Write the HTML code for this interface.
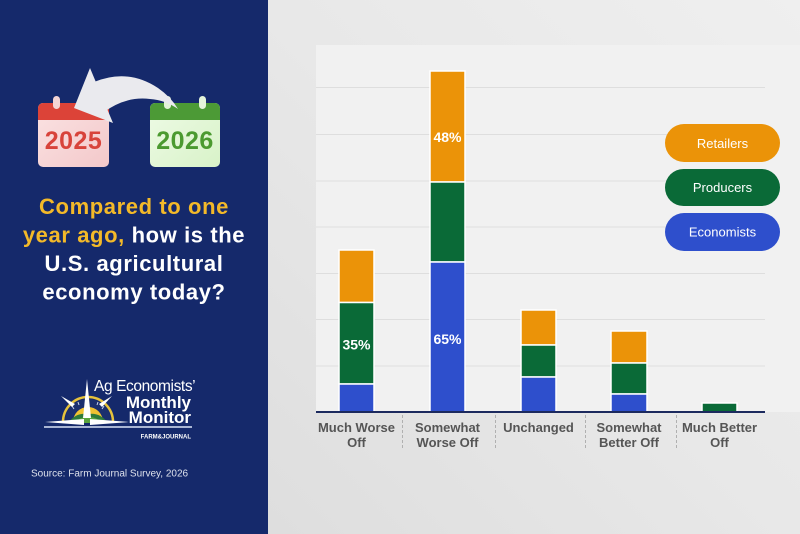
<!DOCTYPE html>
<html><head><meta charset="utf-8"><style>
html,body{margin:0;padding:0;width:800px;height:534px;overflow:hidden;background:#e6e6e6}
svg{display:block}
text{font-family:"Liberation Sans",Arial,sans-serif}
</style></head><body>
<svg width="800" height="534" viewBox="0 0 800 534" xmlns="http://www.w3.org/2000/svg">
<defs>
<linearGradient id="bg" x1="0" y1="1" x2="1" y2="0">
<stop offset="0" stop-color="#dedede"/><stop offset="0.5" stop-color="#e8e8e8"/><stop offset="1" stop-color="#efefef"/>
</linearGradient>
<linearGradient id="pink" x1="0" y1="0" x2="1" y2="1"><stop offset="0" stop-color="#fbe3e3"/><stop offset="1" stop-color="#f3c8ca"/></linearGradient>
<linearGradient id="lgreen" x1="0" y1="0" x2="1" y2="1"><stop offset="0" stop-color="#eefbe6"/><stop offset="1" stop-color="#d8f2c8"/></linearGradient>
</defs>
<rect x="268" y="0" width="532" height="534" fill="url(#bg)"/>
<rect x="316" y="45" width="484" height="367" fill="#f1f1f1"/>
<!-- gridlines -->
<g stroke="#dedede" stroke-width="1">
<line x1="316" y1="87.5" x2="765" y2="87.5"/>
<line x1="316" y1="134.5" x2="765" y2="134.5"/>
<line x1="316" y1="181" x2="765" y2="181"/>
<line x1="316" y1="227" x2="765" y2="227"/>
<line x1="316" y1="273.5" x2="765" y2="273.5"/>
<line x1="316" y1="319.5" x2="765" y2="319.5"/>
<line x1="316" y1="366" x2="765" y2="366"/>
</g>
<!-- left panel -->
<rect x="0" y="0" width="268" height="534" fill="#15296b"/>
<!-- calendars -->
<rect x="38" y="103" width="71" height="64" rx="5" fill="url(#pink)"/>
<path d="M38 120 V108 a5 5 0 0 1 5 -5 H104 a5 5 0 0 1 5 5 V120 Z" fill="#dc4338"/>
<rect x="53" y="96" width="7" height="13" rx="3.5" fill="#f4d4d4"/>
<rect x="88" y="96" width="7" height="13" rx="3.5" fill="#f4d4d4"/>
<text x="73.5" y="149" text-anchor="middle" font-size="25" font-weight="bold" fill="#d8433b" letter-spacing="0.5">2025</text>
<rect x="150" y="103" width="70" height="64" rx="5" fill="url(#lgreen)"/>
<path d="M150 120 V108 a5 5 0 0 1 5 -5 H215 a5 5 0 0 1 5 5 V120 Z" fill="#4c9a36"/>
<rect x="164" y="96" width="7" height="13" rx="3.5" fill="#e4f4da"/>
<rect x="199" y="96" width="7" height="13" rx="3.5" fill="#e4f4da"/>
<text x="185" y="149" text-anchor="middle" font-size="25" font-weight="bold" fill="#4b9a30" letter-spacing="0.5">2026</text>
<!-- arrow -->
<path d="M94 82 Q128 68 158 88 Q171 97 178 109 Q165 100 150 99 Q126 96 104 112 Z" fill="#eaeaee"/>
<polygon points="90,68 74,108 113,123" fill="#eaeaee"/>
<!-- title -->
<g font-size="22" font-weight="bold" text-anchor="middle" letter-spacing="0.6">
<text x="134" y="214" fill="#f3b929">Compared to one</text>
<text x="134" y="242.5"><tspan fill="#f3b929">year ago,</tspan><tspan fill="#ffffff"> how is the</tspan></text>
<text x="134" y="271" fill="#ffffff">U.S. agricultural</text>
<text x="134" y="299.5" fill="#ffffff">economy today?</text>
</g>
<!-- logo -->
<g>
<path d="M63 422 A25 25 0 0 1 113 422" fill="none" stroke="#e6c23c" stroke-width="2.5"/>
<path d="M65 422 A23 23 0 0 1 111 422 Z" fill="#1b2f6e"/>
<g stroke="#c9d3ea" stroke-width="1">
<line x1="72" y1="406" x2="74" y2="409"/><line x1="78" y1="402" x2="79" y2="405"/>
<line x1="98" y1="402" x2="97" y2="405"/><line x1="104" y1="406" x2="102" y2="409"/>
</g>
<path d="M73 422 A15 15 0 0 1 103 422 Z" fill="#f0c232"/>
<path d="M68 423 Q76 412 88 414 Q100 412 108 423 Z" fill="#2e7a3a"/>
<path d="M74 423 Q82 416 88 417 Q95 416 102 423 Z" fill="#5aa43e"/>
<polygon points="87,379 91,418 83,418" fill="#ffffff"/>
<polygon points="45,422 84,419 84,425" fill="#ffffff"/>
<polygon points="129,422 90,419 90,425" fill="#ffffff"/>
<polygon points="61,396 75,404 72,407" fill="#ffffff"/>
<polygon points="112,396 99,404 102,407" fill="#ffffff"/>
<text x="94" y="391" font-size="15.5" fill="#ffffff" letter-spacing="-0.4">Ag Economists’</text>
<text x="191" y="408" font-size="17" font-weight="bold" fill="#ffffff" text-anchor="end">Monthly</text>
<text x="191" y="423" font-size="17" font-weight="bold" fill="#ffffff" text-anchor="end">Monitor</text>
<rect x="44" y="426" width="148" height="2" fill="#aab6d4"/>
<text x="191" y="438.5" font-size="6" font-weight="bold" fill="#ffffff" text-anchor="end">FARM&amp;JOURNAL</text>
</g>
<text x="31" y="476.5" font-size="10" fill="#dde1ec">Source: Farm Journal Survey, 2026</text>
<!-- bars -->
<g stroke="#ffffff" stroke-width="1.5">
<rect x="339" y="250" width="35" height="52.5" fill="#eb9308"/>
<rect x="339" y="302.5" width="35" height="81.5" fill="#0a6a37"/>
<rect x="339" y="384" width="35" height="28" fill="#2e4fcc"/>
<rect x="430" y="71" width="35" height="111" fill="#eb9308"/>
<rect x="430" y="182" width="35" height="80" fill="#0a6a37"/>
<rect x="430" y="262" width="35" height="150" fill="#2e4fcc"/>
<rect x="521" y="310" width="35" height="35" fill="#eb9308"/>
<rect x="521" y="345" width="35" height="32" fill="#0a6a37"/>
<rect x="521" y="377" width="35" height="35" fill="#2e4fcc"/>
<rect x="611" y="331" width="36" height="32" fill="#eb9308"/>
<rect x="611" y="363" width="36" height="31" fill="#0a6a37"/>
<rect x="611" y="394" width="36" height="18" fill="#2e4fcc"/>
<rect x="702" y="403" width="35" height="9" fill="#0a6a37"/>
</g>
<g font-size="14" font-weight="bold" fill="#ffffff" text-anchor="middle">
<text x="356.5" y="349.5">35%</text>
<text x="447.5" y="142">48%</text>
<text x="447.5" y="344">65%</text>
</g>
<line x1="316" y1="412" x2="765" y2="412" stroke="#1c2a5e" stroke-width="2"/>
<g stroke="#b0b0b0" stroke-width="1" stroke-dasharray="3,2">
<line x1="402.5" y1="415" x2="402.5" y2="448"/>
<line x1="495.5" y1="415" x2="495.5" y2="448"/>
<line x1="585.5" y1="415" x2="585.5" y2="448"/>
<line x1="676.5" y1="415" x2="676.5" y2="448"/>
</g>
<g font-size="13" font-weight="bold" fill="#555555" text-anchor="middle">
<text x="356.5" y="432">Much Worse</text><text x="356.5" y="447">Off</text>
<text x="447.5" y="432">Somewhat</text><text x="447.5" y="447">Worse Off</text>
<text x="538.5" y="432">Unchanged</text>
<text x="629" y="432">Somewhat</text><text x="629" y="447">Better Off</text>
<text x="719.5" y="432">Much Better</text><text x="719.5" y="447">Off</text>
</g>
<!-- legend -->
<rect x="665" y="124" width="115" height="38" rx="19" fill="#eb9308"/>
<rect x="665" y="169" width="115" height="37" rx="18.5" fill="#0a6a37"/>
<rect x="665" y="213" width="115" height="38" rx="19" fill="#2e4fcc"/>
<g font-size="13" fill="#ffffff" text-anchor="middle">
<text x="722.5" y="148">Retailers</text>
<text x="722.5" y="192">Producers</text>
<text x="722.5" y="236.5">Economists</text>
</g>
</svg>
</body></html>
